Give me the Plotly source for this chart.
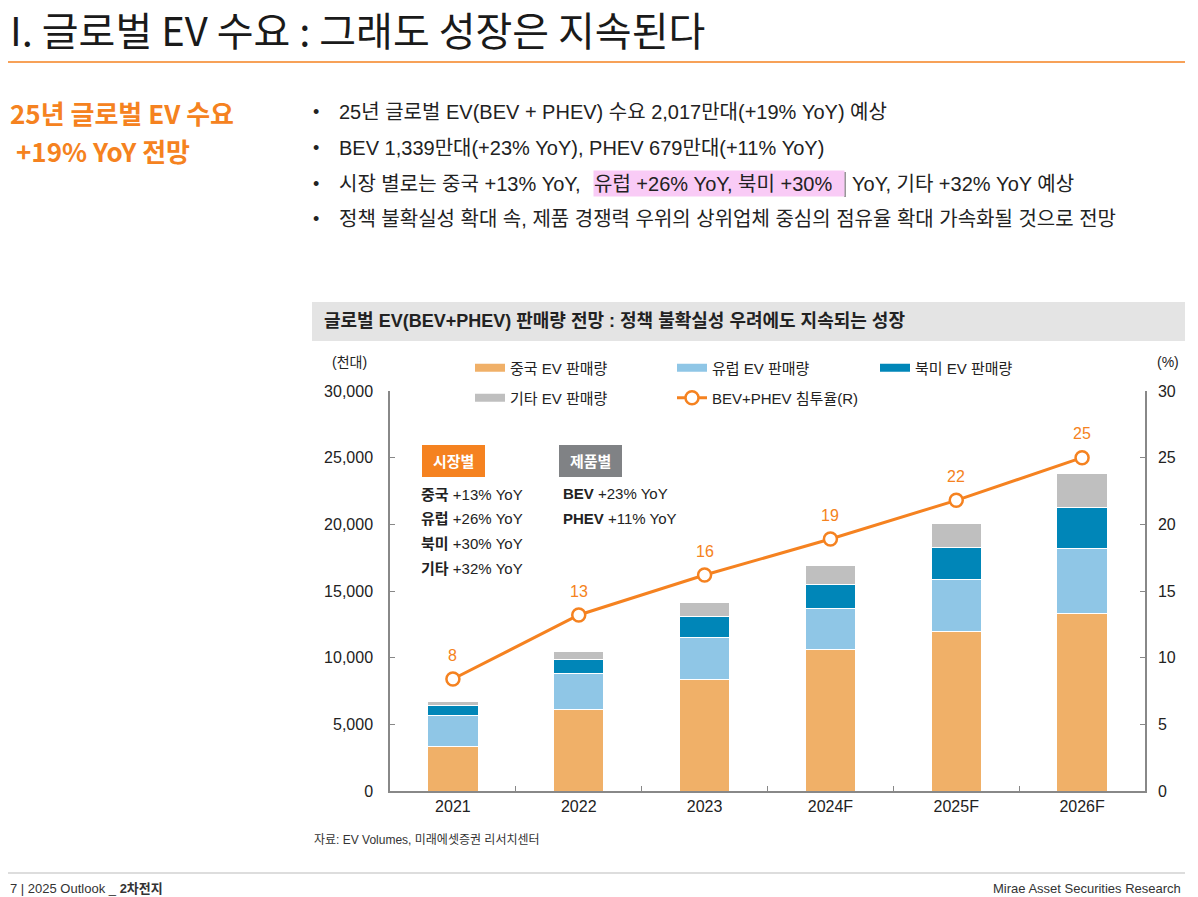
import plotly.graph_objects as go

# chart data (천대 / %)
years = ["2021", "2022", "2023", "2024F", "2025F", "2026F"]
china = [3330, 6125, 8380, 10630, 11950, 13300]
europe = [2320, 2705, 3150, 3070, 3930, 4900]
north_america = [750, 1020, 1550, 1800, 2400, 3080]
others = [280, 580, 1050, 1380, 1750, 2570]
penetration = [8.4, 13.2, 16.2, 18.9, 21.8, 25.0]
penetration_labels = ["8", "13", "16", "19", "22", "25"]

series_names = ["중국 EV 판매량", "유럽 EV 판매량", "북미 EV 판매량", "기타 EV 판매량"]
line_name = "BEV+PHEV 침투율(R)"

market_yoy = [("중국", "+13% YoY"), ("유럽", "+26% YoY"), ("북미", "+30% YoY"), ("기타", "+32% YoY")]
product_yoy = [("BEV", "+23% YoY"), ("PHEV", "+11% YoY")]

bullets = [
    "25년 글로벌 EV(BEV + PHEV) 수요 2,017만대(+19% YoY) 예상",
    "BEV 1,339만대(+23% YoY), PHEV 679만대(+11% YoY)",
    None,
    "정책 불확실성 확대 속, 제품 경쟁력 우위의 상위업체 중심의 점유율 확대 가속화될 것으로 전망",
]
bullet3_parts = ["시장 별로는 중국 +13% YoY,", "유럽 +26% YoY, 북미 +30%", "YoY, 기타 +32% YoY 예상"]

# styling
FONT = "Liberation Sans, Noto Sans CJK KR"
TITLE_FONT = "Noto Sans CJK KR"
COLOURS = ["#F0B068", "#8FC6E6", "#0086B8", "#BFBFBF"]
ORANGE = "#F58220"
TEXT = "#222222"

# page is drawn 8px in from the window corner (body margin)
OFF = 8
W, H = 1198 - OFF, 897 - OFF
PL, PR, PT, PB = 390, 1145, 391, 791  # plot area in window pixels


def px(x):
    return (x - PL) / (PR - PL)


def py(y):
    return (PB - y) / (PB - PT)


fig = go.Figure()

for name, vals, col in zip(series_names, [china, europe, north_america, others], COLOURS):
    fig.add_trace(
        go.Bar(
            x=years,
            y=vals,
            name=name,
            marker=dict(color=col, line=dict(color="white", width=1)),
            width=0.4,
            showlegend=False,
            hoverinfo="skip",
        )
    )

fig.add_trace(
    go.Scatter(
        x=years,
        y=penetration,
        yaxis="y2",
        mode="lines+markers",
        name=line_name,
        line=dict(color=ORANGE, width=3),
        marker=dict(size=13, color="white", line=dict(color=ORANGE, width=2.5)),
        legend="legend5",
    )
)

# legend-only entries with wide flat swatches, one legend per entry
for i, (name, col) in enumerate(zip(series_names, COLOURS)):
    fig.add_trace(
        go.Scatter(
            x=[None],
            y=[None],
            mode="lines",
            name=name,
            line=dict(color=col, width=8),
            legend="legend" if i == 0 else f"legend{i + 1}",
        )
    )

annotations = []

# penetration labels (category index on the x axis)
for i, (y, t) in enumerate(zip(penetration, penetration_labels)):
    annotations.append(dict(x=i, y=y, xref="x", yref="y2", text=t, showarrow=False,
                            yshift=24, font=dict(size=16, color=ORANGE)))


def note(x, y, text, size, color=TEXT, anchor="left", family=FONT, **kw):
    annotations.append(dict(x=px(x), y=py(y), xref="paper", yref="paper", xanchor=anchor,
                            yanchor="middle", text=text, showarrow=False,
                            font=dict(size=size, color=color, family=family), **kw))


# page title and left heading
note(8, 29, "I. 글로벌 EV 수요 : 그래도 성장은 지속된다", 40, "#1A1A1A", family=TITLE_FONT)
note(8, 112, "<b>25년 글로벌 EV 수요</b>", 26, ORANGE, family=TITLE_FONT)
note(14, 150, "<b>+19% YoY 전망</b>", 26, ORANGE, family=TITLE_FONT)

# bullets
bullet_y = [112, 148, 184, 219]
for b, yy in zip(bullets, bullet_y):
    note(311, yy, "•", 18)
    if b is not None:
        note(337, yy, b, 20)

# third bullet in pieces so the middle can be highlighted
note(337, 184, bullet3_parts[0], 20)
note(593, 184, bullet3_parts[1], 20, bgcolor="#F9CBF6", borderpad=0, width=250, align="left", height=25)
note(850, 184, bullet3_parts[2], 20)

# chart title
note(322, 321, "<b>글로벌 EV(BEV+PHEV) 판매량 전망 : 정책 불확실성 우려에도 지속되는 성장</b>", 18)

# axis units
note(349, 362, "(천대)", 14, anchor="center")
note(1168, 362, "(%)", 14, anchor="center")

# in-chart boxes
note(453, 461, "<b>시장별</b>", 15, "white", anchor="center")
note(590, 461, "<b>제품별</b>", 15, "white", anchor="center")
for (k, v), yy in zip(market_yoy, [494, 518, 543, 568]):
    note(419, yy, f"<b>{k}</b> {v}", 15)
for (k, v), yy in zip(product_yoy, [493, 518]):
    note(561, yy, f"<b>{k}</b> {v}", 15)

# source and footer
note(312, 840, "자료: EV Volumes, 미래에셋증권 리서치센터", 12, "#333333")
note(8, 888, "7 | 2025 Outlook _ <b>2차전지</b>", 13, "#333333")
note(1183, 888, "Mirae Asset Securities Research", 13, "#333333", anchor="right")


def rect(x0, x1, y0, y1, colour):
    return dict(type="rect", xref="paper", yref="paper", x0=px(x0), x1=px(x1), y0=py(y0), y1=py(y1),
                fillcolor=colour, line=dict(width=0), layer="below")


def hline(x0, x1, y, colour, width):
    return dict(type="line", xref="paper", yref="paper", x0=px(x0), x1=px(x1), y0=py(y), y1=py(y),
                line=dict(color=colour, width=width))


shapes = [
    hline(8, 1185, 62, ORANGE, 1.5),
    hline(8, 1185, 873, "#BBBBBB", 1),
    dict(type="line", xref="paper", yref="paper", x0=px(845), x1=px(845), y0=py(172), y1=py(197),
         line=dict(color="#333333", width=1)),
    rect(312, 1185, 302, 341, "#E4E4E4"),
    rect(422, 485, 445, 477, ORANGE),
    rect(559, 622, 445, 477, "#808285"),
]

legend_pos = [(470, 368), (672, 368), (875, 368), (470, 398), (672, 398)]
legend_layout = {}
for i, (lx, ly) in enumerate(legend_pos):
    key = "legend" if i == 0 else f"legend{i + 1}"
    legend_layout[key] = dict(x=px(lx), y=py(ly), xanchor="left", yanchor="middle",
                              itemwidth=30, font=dict(size=15, color=TEXT, family=FONT),
                              bgcolor="rgba(0,0,0,0)")

fig.update_layout(
    width=W,
    height=H,
    margin=dict(l=PL - OFF, r=1198 - PR, t=PT - OFF, b=897 - PB),
    barmode="stack",
    plot_bgcolor="white",
    paper_bgcolor="white",
    font=dict(family=FONT, size=15, color=TEXT),
    annotations=annotations,
    shapes=shapes,
    xaxis=dict(type="category", range=[-0.5, 5.5], showline=True, linecolor="#888888", linewidth=1.5,
               ticks="inside", ticklen=5, tickcolor="#888888", tickson="boundaries",
               tickfont=dict(size=16, color=TEXT), showgrid=False),
    yaxis=dict(range=[0, 30000], dtick=5000, tickformat=",", showline=True, linecolor="#888888",
               linewidth=1.5, ticks="inside", ticklen=5, tickcolor="#888888", showgrid=False,
               zeroline=False, ticklabelstandoff=12, tickfont=dict(size=16, color=TEXT)),
    yaxis2=dict(range=[0, 30], dtick=5, overlaying="y", side="right", showline=True,
                linecolor="#888888", linewidth=1.5, ticks="inside", ticklen=5, tickcolor="#888888",
                showgrid=False, zeroline=False, ticklabelstandoff=8, tickfont=dict(size=16, color=TEXT)),
    **legend_layout,
)

fig.write_html("out.html")
